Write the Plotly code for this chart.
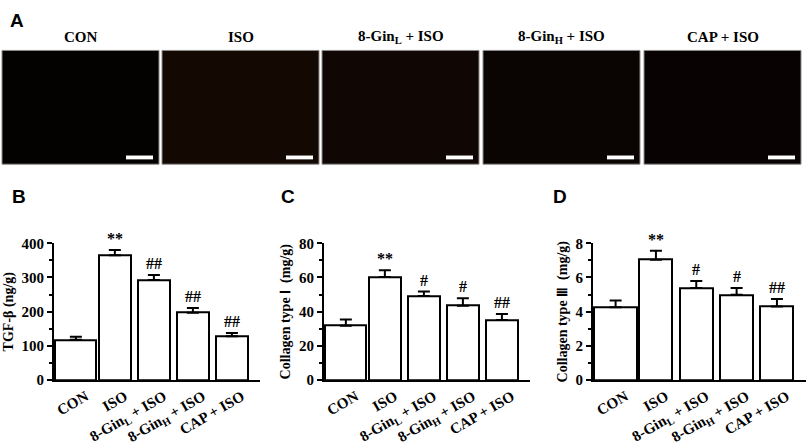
import plotly.graph_objects as go

W, H = 809, 447

categories = ["CON", "ISO", "8-Gin<sub>L</sub> + ISO", "8-Gin<sub>H</sub> + ISO", "CAP + ISO"]
image_titles = ["CON", "ISO", "8-Gin<sub>L</sub> + ISO", "8-Gin<sub>H</sub> + ISO", "CAP + ISO"]

tgf_mean = [118, 365, 293, 197, 128]
tgf_err = [9, 15, 14, 14, 10]
tgf_marks = ["", "**", "##", "##", "##"]

col1_mean = [31.8, 60.3, 49.2, 43.5, 35.1]
col1_err = [3.7, 4.0, 2.6, 4.4, 3.5]
col1_marks = ["", "**", "#", "#", "##"]

col3_mean = [4.26, 7.04, 5.38, 4.99, 4.31]
col3_err = [0.39, 0.52, 0.42, 0.39, 0.43]
col3_marks = ["", "**", "#", "#", "##"]

bar_widths = [1.05, 0.82, 0.82, 0.82, 0.82]
image_fills = ["#040201", "#140803", "#100603", "#0a0402", "#080302"]

FONT = "Liberation Serif, Times New Roman, serif"
SANS = "Liberation Sans, Arial, sans-serif"

def px(x):
    return x / W

def py(y):
    return 1 - y / H

fig = go.Figure()

panels = [
    dict(mean=tgf_mean, err=tgf_err, marks=tgf_marks, ymax=400, dtick=100, minor=50,
         title="TGF-β (ng/g)", x0=54, x1=260, letter="B", lx=19),
    dict(mean=col1_mean, err=col1_err, marks=col1_marks, ymax=80, dtick=20, minor=10,
         title="Collagen type Ⅰ  (mg/g)", x0=324, x1=530, letter="C", lx=288),
    dict(mean=col3_mean, err=col3_err, marks=col3_marks, ymax=8, dtick=2, minor=1,
         title="Collagen type Ⅲ  (mg/g)", x0=593, x1=806, letter="D", lx=560),
]

annotations = []
for i, p in enumerate(panels):
    n = "" if i == 0 else str(i + 1)
    xa = "x" + n
    ya = "y" + n
    fig.add_trace(go.Bar(
        x=list(range(len(categories))), y=p["mean"], width=bar_widths,
        marker=dict(color="white", line=dict(color="black", width=2)),
        error_y=dict(type="data", symmetric=False, array=p["err"],
                     arrayminus=[0] * len(p["err"]), color="black", thickness=2, width=6),
        xaxis=xa, yaxis=ya, showlegend=False, hoverinfo="skip",
    ))
    fig.update_layout(**{
        "xaxis" + n: dict(domain=[px(p["x0"]), px(p["x1"])], range=[-0.56, 4.72],
                          tickmode="array", tickvals=list(range(len(categories))),
                          ticktext=categories, tickangle=-30, showline=True,
                          linecolor="black", linewidth=2, ticks="", showgrid=False,
                          zeroline=False, anchor=ya, ticklabelshift=10,
                          tickfont=dict(family=FONT, size=15, color="black", weight="bold")),
        "yaxis" + n: dict(domain=[py(386), py(244)], range=[0, p["ymax"]],
                          dtick=p["dtick"], showline=True, linecolor="black", linewidth=2,
                          ticks="outside", ticklen=5, tickwidth=2, tickcolor="black",
                          minor=dict(dtick=p["minor"], ticks="outside", ticklen=3,
                                     tickwidth=1.5, tickcolor="black"),
                          showgrid=False, zeroline=False, anchor=xa,
                          tickfont=dict(family=FONT, size=15, color="black", weight="bold")),
    })
    fig.update_layout(**{"yaxis" + n: dict(title=dict(text=p["title"], standoff=5,
                         font=dict(family=FONT, size=14, color="black", weight="bold")))})
    for j, m in enumerate(p["marks"]):
        if m:
            annotations.append(dict(x=j, y=p["mean"][j] + p["err"][j], xref=xa, yref=ya,
                                    text=m, showarrow=False, yanchor="bottom", yshift=1,
                                    font=dict(family=FONT, size=16, color="black", weight="bold")))
    annotations.append(dict(x=px(p["lx"]), y=py(196), xref="paper", yref="paper",
                            text=p["letter"], showarrow=False, xanchor="center", yanchor="middle",
                            font=dict(family=SANS, size=19, color="black", weight="bold")))

# Panel A: image placeholders
annotations.append(dict(x=px(17), y=py(13), xref="paper", yref="paper", text="A",
                        showarrow=False, xanchor="center", yanchor="middle",
                        font=dict(family=SANS, size=19, color="black", weight="bold")))
shapes = []
img_x0 = [2, 162, 322, 483, 644]
img_w = 157
for x0, t, fc in zip(img_x0, image_titles, image_fills):
    shapes.append(dict(type="rect", xref="paper", yref="paper",
                       x0=px(x0), x1=px(x0 + img_w), y0=py(162), y1=py(44),
                       fillcolor=fc, line=dict(color="#8c8c8c", width=1)))
    shapes.append(dict(type="rect", xref="paper", yref="paper",
                       x0=px(x0 + 124), x1=px(x0 + 151), y0=py(157), y1=py(153),
                       fillcolor="white", line=dict(width=0)))
    annotations.append(dict(x=px(x0 + img_w / 2), y=py(30), xref="paper", yref="paper",
                            text=t, showarrow=False, xanchor="center", yanchor="middle",
                            font=dict(family=FONT, size=15, color="black", weight="bold")))

fig.update_layout(width=W, height=H, margin=dict(l=0, r=0, t=0, b=0),
                  paper_bgcolor="white", plot_bgcolor="white",
                  annotations=annotations, shapes=shapes, bargap=0)

fig.write_html("out.html", config={"displayModeBar": False},
               post_script="document.body.style.margin='0';document.body.style.overflow='hidden';")
